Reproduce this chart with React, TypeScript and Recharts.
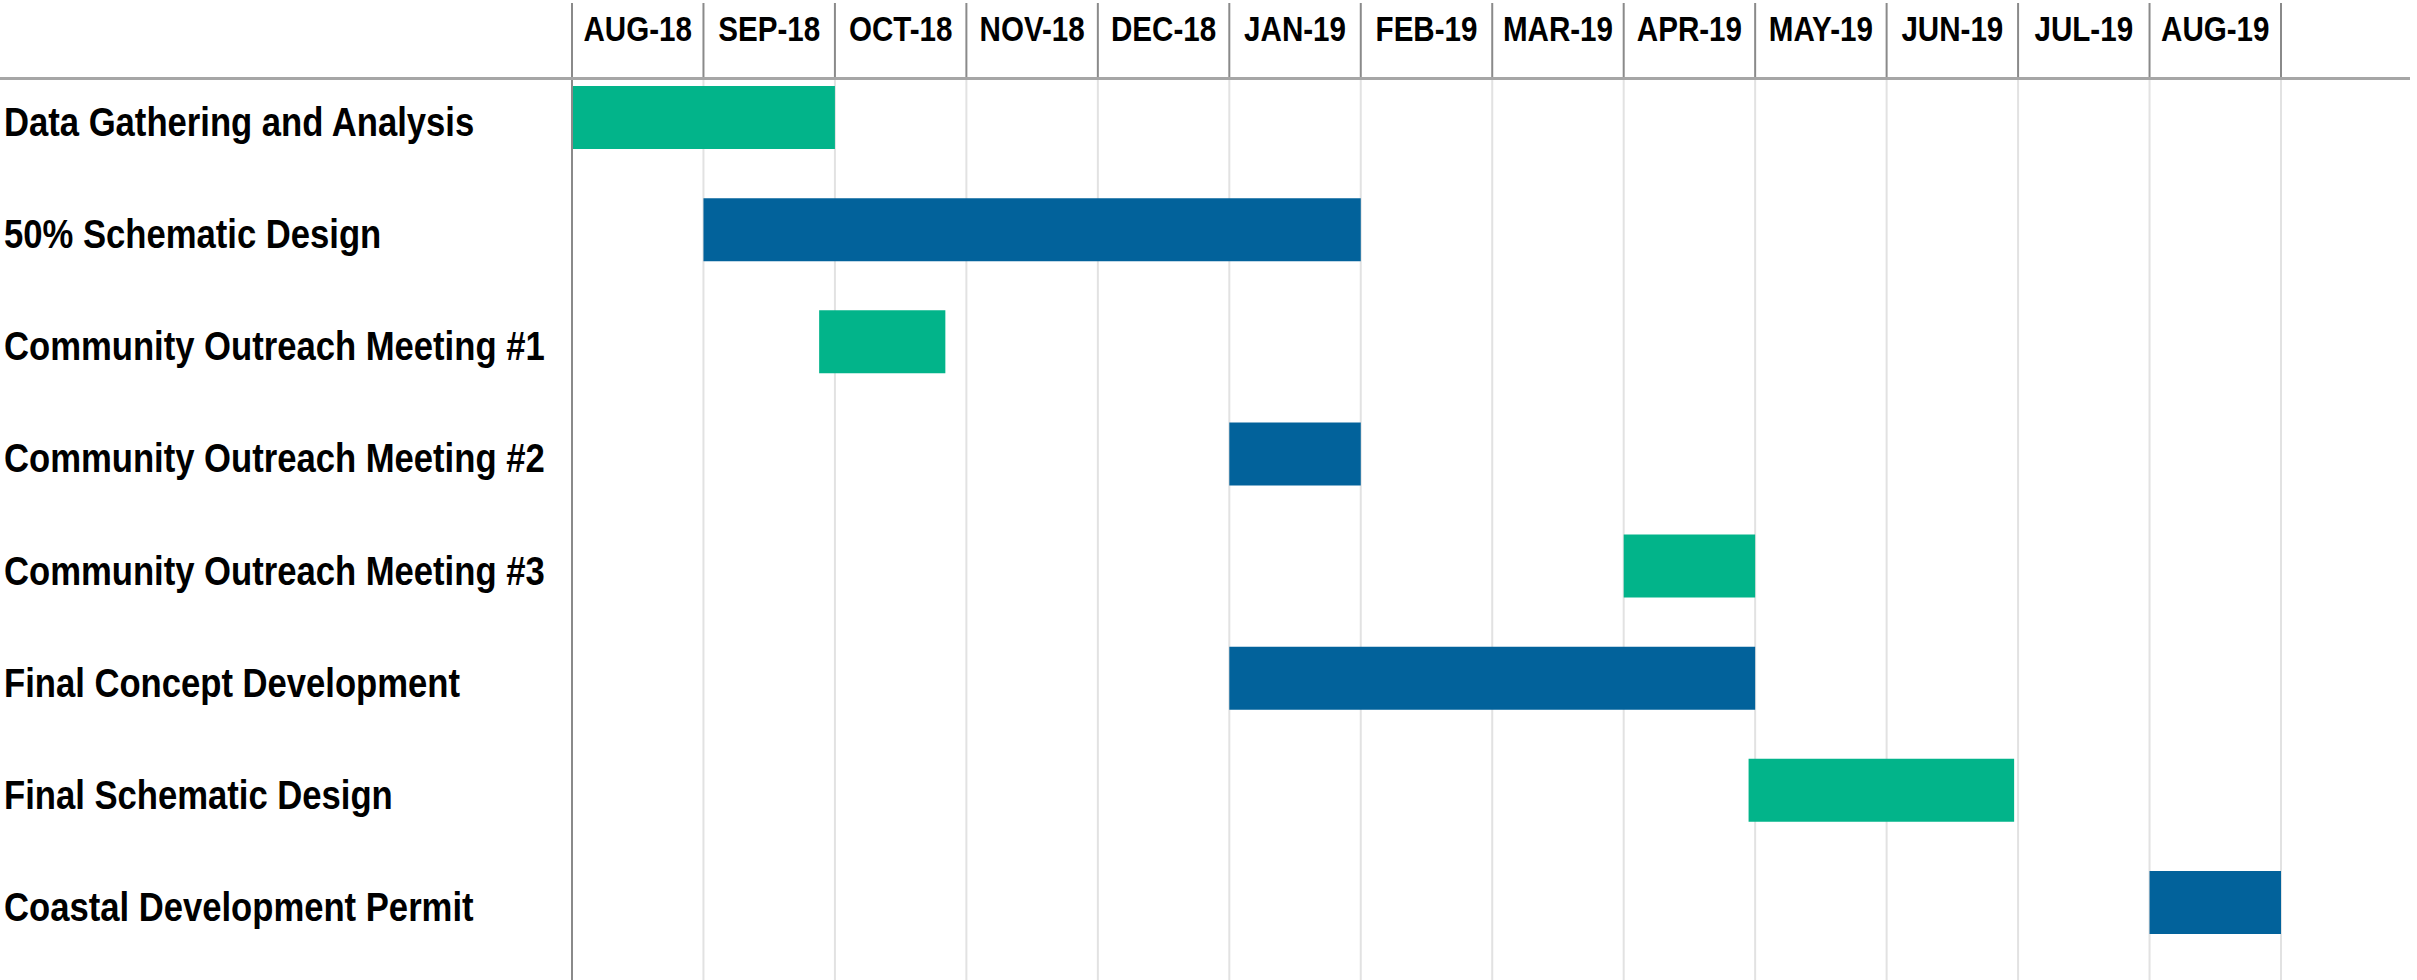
import { Bar, BarChart, CartesianGrid, Cell, XAxis, YAxis } from 'recharts';

const months = [
  'AUG-18', 'SEP-18', 'OCT-18', 'NOV-18', 'DEC-18', 'JAN-19', 'FEB-19',
  'MAR-19', 'APR-19', 'MAY-19', 'JUN-19', 'JUL-19', 'AUG-19',
];

const tasks = [
  'Data Gathering and Analysis',
  '50% Schematic Design',
  'Community Outreach Meeting #1',
  'Community Outreach Meeting #2',
  'Community Outreach Meeting #3',
  'Final Concept Development',
  'Final Schematic Design',
  'Coastal Development Permit',
];

// months counted from 1 Aug 2018
const startMonth = [0, 1, 1.88, 5, 8, 5, 8.95, 12];
const durationMonths = [2, 5, 0.96, 1, 1, 4, 2.02, 1];

const phaseColors = ['#02b48a', '#02629b', '#02b48a', '#02629b', '#02b48a', '#02629b', '#02b48a', '#02629b'];

const monthTicks = months.map((_, i) => i).concat(months.length);

const data = tasks.map((task, i) => ({
  task,
  offset: startMonth[i],
  duration: durationMonths[i],
}));

const W = 2417;
const H = 980;
const LEFT = 572;
const RIGHT_MARGIN = 136;
const colW = (W - LEFT - RIGHT_MARGIN) / months.length;
const font = "'Liberation Sans', Arial, sans-serif";
// the original uses a condensed bold face, squeeze the regular one
const NARROW = 0.845;

function MonthTick(props: any) {
  const { x, payload } = props;
  const label = months[payload.value];
  if (!label) return null;
  return (
    <text
      transform={`translate(${x + colW / 2}, 29) scale(${NARROW}, 1)`}
      textAnchor='middle'
      dominantBaseline='central'
      fontFamily={font}
      fontWeight='bold'
      fontSize={35}
      fill='#000'
    >
      {label}
    </text>
  );
}

function TaskTick(props: any) {
  const { y, payload } = props;
  return (
    <text
      transform={`translate(4, ${y + 5}) scale(${NARROW}, 1)`}
      textAnchor='start'
      dominantBaseline='central'
      fontFamily={font}
      fontWeight='bold'
      fontSize={41}
      fill='#000'
    >
      {payload.value}
    </text>
  );
}

export default function App() {
  return (
    <div
      style={{
        position: 'absolute',
        left: 0,
        top: 0,
        width: W,
        height: H,
        overflow: 'hidden',
        background: '#fff',
      }}
    >
      <BarChart
        width={W}
        height={H}
        data={data}
        layout='vertical'
        margin={{ top: 0, right: RIGHT_MARGIN, bottom: 0, left: 0 }}
        barSize={63}
      >
        <CartesianGrid horizontal={false} stroke='#e2e2e2' strokeWidth={2} />
        <XAxis
          type='number'
          orientation='top'
          domain={[0, months.length]}
          ticks={monthTicks}
          interval={0}
          height={79}
          tickSize={76}
          tickLine={{ stroke: '#8a8a8a', strokeWidth: 2 }}
          axisLine={false}
          tick={<MonthTick />}
        />
        <YAxis
          type='category'
          dataKey='task'
          width={LEFT}
          padding={{ top: -18, bottom: 22 }}
          axisLine={{ stroke: '#8a8a8a', strokeWidth: 2 }}
          tickLine={false}
          tick={<TaskTick />}
          interval={0}
        />
        <Bar dataKey='offset' stackId='a' fill='transparent' isAnimationActive={false} />
        <Bar dataKey='duration' stackId='a' isAnimationActive={false}>
          {data.map((_, i) => (
            <Cell key={i} fill={phaseColors[i]} />
          ))}
        </Bar>
      </BarChart>
      <div
        style={{
          position: 'absolute',
          left: 0,
          top: 77,
          width: 2410,
          height: 3,
          background: '#a6a6a6',
        }}
      />
    </div>
  );
}
